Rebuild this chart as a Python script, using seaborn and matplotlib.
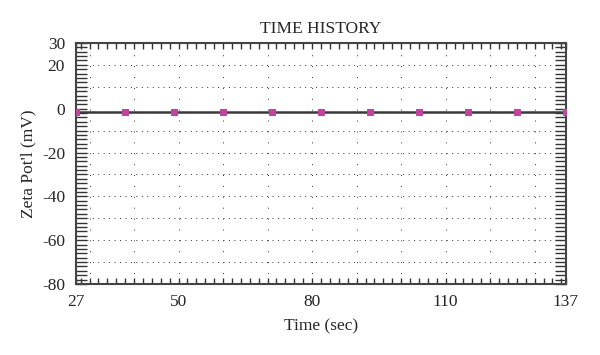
import matplotlib
matplotlib.use("Agg")
import matplotlib.pyplot as plt
import seaborn as sns
import pandas as pd
import numpy as np
from matplotlib.ticker import MultipleLocator, FixedLocator

# Data
time_sec = [27, 38, 49, 60, 71, 82, 93, 104, 115, 126, 137]
zeta_mv = [-1.3, -1.3, -1.3, -1.3, -1.3, -1.3, -1.3, -1.3, -1.3, -1.3, -1.3]
x_ticks = [27, 50, 80, 110, 137]
y_ticks = [30, 20, 0, -20, -40, -60, -80]

sns.set_theme(style="white")
plt.rcParams['font.family'] = ['Liberation Serif', 'DejaVu Serif']
plt.rcParams['axes.unicode_minus'] = False

df = pd.DataFrame({"Time (sec)": time_sec, "Zeta": zeta_mv})

fig = plt.figure(figsize=(6.0, 3.55), dpi=100)
ax = fig.add_axes([0.127, 0.2, 0.816, 0.679])

# dotted grid
for gy in range(-70, 30, 10):
    if gy == 0:
        continue
    ax.axhline(gy, color="#333333", lw=0.7, ls=(0, (1.0, 4.6)), zorder=1)
for gx in range(30, 137, 10):
    ax.axvline(gx, color="#333333", lw=0.7, ls=(0.4, (1.0, 10.2)), zorder=1)

sns.lineplot(data=df, x="Time (sec)", y="Zeta", ax=ax, color="#3a3a3a",
             linewidth=1.8, marker="s", markersize=4.2,
             markerfacecolor="#c1439f", markeredgecolor="#c1439f", zorder=3)

ax.set_xlim(27, 137)
ax.set_ylim(-80, 30)
ax.xaxis.set_major_locator(FixedLocator(x_ticks))
ax.yaxis.set_major_locator(FixedLocator(y_ticks))
ax.xaxis.set_minor_locator(MultipleLocator(2))
ax.yaxis.set_minor_locator(MultipleLocator(2))

ax.tick_params(axis="x", which="both", direction="in", top=True, bottom=True,
               length=4, width=1.0, color="#333333", labelsize=12.5, pad=7)
ax.tick_params(axis="y", which="both", direction="in", left=True, right=True,
               length=8, width=1.0, color="#333333", labelsize=12.5, pad=8)

for s in ax.spines.values():
    s.set_color("#444444")
    s.set_linewidth(1.5)

ax.set_title("TIME HISTORY", fontsize=12.5, pad=7)
ax.set_xlabel("Time (sec)", fontsize=12.5, labelpad=6)
ax.set_ylabel("Zeta Pot'l (mV)", fontsize=12.5, labelpad=4)

fig.savefig("out.png", dpi=100)
